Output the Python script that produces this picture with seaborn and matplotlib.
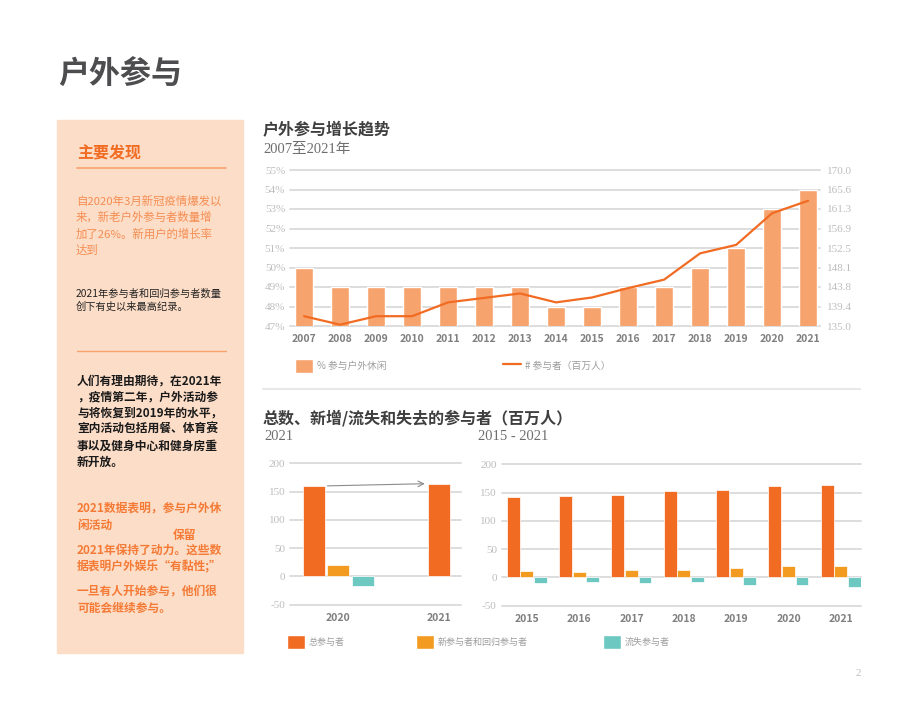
import numpy as np
import pandas as pd
import seaborn as sns
import matplotlib.pyplot as plt
from matplotlib.patches import Patch, Rectangle
from matplotlib.lines import Line2D

# ---- datos ----
trend_years = ['2007', '2008', '2009', '2010', '2011', '2012', '2013', '2014',
               '2015', '2016', '2017', '2018', '2019', '2020', '2021']
pct_participating = [50, 49, 49, 49, 49, 49, 49, 48, 48, 49, 49, 50, 51, 53, 54]
participants_m = [137.2, 135.3, 137.2, 137.2, 140.3, 141.3, 142.3, 140.3,
                  141.4, 143.5, 145.4, 151.3, 153.2, 160.3, 163.1]
pct_ticks = [47, 48, 49, 50, 51, 52, 53, 54, 55]
participant_ticks = [135.0, 139.4, 143.8, 148.1, 152.5, 156.9, 161.3, 165.6, 170.0]

series_names = ['总参与者', '新参与者和回归参与者', '流失参与者']
left_years = ['2020', '2021']
left_total = [160, 164]
left_new = [20, np.nan]
left_lost = [-17, np.nan]

churn_years = ['2015', '2016', '2017', '2018', '2019', '2020', '2021']
churn_total = [142, 144.3, 146, 152, 153.8, 161, 163.9]
churn_new = [11.2, 10, 12.4, 13.6, 16.6, 20, 20.7]
churn_lost = [-10, -8.3, -10.6, -8.3, -14.2, -13, -17.2]
bottom_ticks = [-50, 0, 50, 100, 150, 200]

# ---- colores ----
ORANGE = '#F26B22'
BAR_LIGHT = '#F7A36E'
AMBER = '#F29B20'
TEAL = '#6DC8C1'
PANEL = '#FCDDC7'
GRID = '#DADADA'
TICK = '#BDBDBD'
YEAR = '#7F7F7F'
LEG = '#9C9C9C'
palette = dict(zip(series_names, [ORANGE, AMBER, TEAL]))

sns.set_style('white')
plt.rcParams['font.family'] = ['Noto Sans CJK SC', 'DejaVu Sans']
SERIF = ['Liberation Serif', 'Noto Sans CJK SC']

W, H = 920, 711
fig = plt.figure(figsize=(9.2, 7.11), dpi=100)


def fx(x):
    return x / W


def fy(y):
    return 1 - y / H


def box(x0, y0, x1, y1):
    return [x0 / W, 1 - y1 / H, (x1 - x0) / W, (y1 - y0) / H]


def txt(x, y, s, **kw):
    fig.text(fx(x), fy(y), s, va='center', ha=kw.pop('ha', 'left'), **kw)


def style_axis(ax, ticks, labels):
    ax.set_yticks(ticks)
    ax.set_yticklabels(labels, family=SERIF, fontsize=8, color=TICK)
    ax.yaxis.grid(True, color=GRID, lw=1.3)
    for gl in ax.get_ygridlines():
        gl.set_clip_on(False)
    ax.set_axisbelow(True)
    ax.tick_params(length=0)
    ax.tick_params(axis='x', pad=6)
    ax.set_xlabel('')
    ax.set_ylabel('')
    sns.despine(ax=ax, left=True, bottom=True)


def legend_at(x, y, handle, label, fs=7, hl=1.85, hh=1.95):
    leg = fig.legend(handles=[handle], labels=[label], loc='center left',
                     bbox_to_anchor=(fx(x), fy(y)), bbox_transform=fig.transFigure,
                     frameon=False, borderpad=0, borderaxespad=0, fontsize=fs,
                     handlelength=hl, handleheight=hh, handletextpad=0.45,
                     labelcolor=LEG)
    return leg


# ---- encabezado y panel izquierdo ----
txt(58, 75, '户外参与', fontsize=22.3, fontweight='bold', color='#4D4D4F')
fig.add_artist(Rectangle((fx(57), fy(653)), (243 - 57) / W, (653 - 120) / H,
                         transform=fig.transFigure, color=PANEL, zorder=0))
txt(77, 153, '主要发现', fontsize=11.5, fontweight='bold', color=ORANGE)
fig.add_artist(Line2D([fx(77), fx(226)], [fy(168)] * 2, color='#F7A36E', lw=1.2))

para1 = ['自2020年3月新冠疫情爆发以', '来，新老户外参与者数量增',
         '加了26%。新用户的增长率', '达到']
for i, s in enumerate(para1):
    txt(76, 201 + i * 16.4, s, fontsize=8.2, color='#F58D52')

para2 = ['2021年参与者和回归参与者数量', '创下有史以来最高纪录。']
for i, s in enumerate(para2):
    txt(76, 293.5 + i * 13.5, s, fontsize=7.35, color='#222222')

fig.add_artist(Line2D([fx(77), fx(226)], [fy(351)] * 2, color='#F7A36E', lw=1.0))

para3 = ['人们有理由期待，在2021年', '，疫情第二年，户外活动参', '与将恢复到2019年的水平，',
         '室内活动包括用餐、体育赛', '事以及健身中心和健身房重', '新开放。']
for i, s in enumerate(para3):
    txt(77, 381 + i * 16.2, s, fontsize=8.45, fontweight='bold', color='#1A1A1A')

para4 = [(77, 508.5, '2021数据表明，参与户外休'), (77, 525, '闲活动'), (173, 536, '保留'),
         (77, 550.5, '2021年保持了动力。这些数'), (77, 567, '据表明户外娱乐“有黏性;”'),
         (77, 591, '一旦有人开始参与，他们很'), (77, 608, '可能会继续参与。')]
for x, y, s in para4:
    txt(x, y, s, fontsize=8.45, fontweight='bold', color='#F47A36')

# ---- grafico superior ----
txt(263, 130, '户外参与增长趋势', fontsize=11.5, fontweight='bold', color='#3F3F3F')
txt(263, 150, '2007至2021年', family=SERIF, fontsize=10.5, color='#6E6E6E')

ax = fig.add_axes(box(290, 170, 820, 326))
sns.barplot(x=trend_years, y=pct_participating, color=BAR_LIGHT, saturation=1,
            width=0.5, ax=ax)
ax.set_ylim(47, 55)
style_axis(ax, pct_ticks, [f'{v}%' for v in pct_ticks])
ax.set_xticks(range(len(trend_years)))
ax.set_xticklabels(trend_years, fontsize=7.5, fontweight='bold', color=YEAR)

ax2 = ax.twinx()
sns.pointplot(x=trend_years, y=participants_m, color=ORANGE, marker='',
              linewidth=1.6, errorbar=None, ax=ax2)
ax2.set_ylim(135, 170)
ax2.set_yticks(participant_ticks)
ax2.set_yticklabels([f'{v:.1f}' for v in participant_ticks], family=SERIF,
                    fontsize=8, color=TICK)
ax2.tick_params(length=0, pad=5)
ax2.set_ylabel('')
sns.despine(ax=ax2, left=True, bottom=True, right=True)
ax.set_xlim(-0.39, 14.33)
ax2.set_xlim(-0.39, 14.33)

legend_at(295, 366, Patch(facecolor=BAR_LIGHT), '% 参与户外休闲')
legend_at(503, 366, Line2D([], [], color=ORANGE, lw=1.6), '# 参与者（百万人）')
fig.add_artist(Line2D([fx(263), fx(860)], [fy(389)] * 2, color='#E8E8E8', lw=1.5))

# ---- graficos inferiores ----
txt(263, 418, '总数、新增/流失和失去的参与者（百万人）', fontsize=11.5,
    fontweight='bold', color='#3F3F3F')
txt(264, 437, '2021', family=SERIF, fontsize=10.5, color='#6E6E6E')
txt(478, 437, '2015 - 2021', family=SERIF, fontsize=10.5, color='#6E6E6E')

left_df = pd.DataFrame({'year': left_years, series_names[0]: left_total,
                        series_names[1]: left_new, series_names[2]: left_lost})
left_long = left_df.melt(id_vars='year', var_name='series', value_name='value').dropna()
grouped = left_long.groupby('year')['series'].transform('count') == len(series_names)

axl = fig.add_axes(box(290, 463.3, 460.7, 604.7))
sns.barplot(data=left_long[grouped], x='year', y='value', hue='series',
            order=left_years, hue_order=series_names, palette=palette, saturation=1,
            width=0.735, gap=0.1, edgecolor='white', linewidth=0.5, legend=False, ax=axl)
sns.barplot(data=left_long[~grouped], x='year', y='value', order=left_years,
            color=ORANGE, saturation=1, width=0.22, edgecolor='white', linewidth=0.5, ax=axl)
axl.set_ylim(-50, 200)
axl.set_xlim(-0.48, 1.22)
style_axis(axl, bottom_ticks, [str(v) for v in bottom_ticks])
axl.set_xticks(range(len(left_years)))
axl.set_xticklabels(left_years, fontsize=7.5, fontweight='bold', color=YEAR)
axl.annotate('', xy=(1 - 0.11, left_total[1]), xytext=(-0.245 + 0.11, left_total[0]),
             arrowprops=dict(arrowstyle='->', color='#8C8C8C', lw=0.8))

churn_df = pd.DataFrame({'year': churn_years, series_names[0]: churn_total,
                         series_names[1]: churn_new, series_names[2]: churn_lost})
churn_long = churn_df.melt(id_vars='year', var_name='series', value_name='value')

axr = fig.add_axes(box(501.7, 464.3, 860.7, 605.7))
sns.barplot(data=churn_long, x='year', y='value', hue='series', order=churn_years,
            hue_order=series_names, palette=palette, saturation=1, width=0.78, gap=0.06,
            edgecolor='white', linewidth=0.5, legend=False, ax=axr)
axr.set_ylim(-50, 200)
axr.set_xlim(-0.48, 6.38)
style_axis(axr, bottom_ticks, [str(v) for v in bottom_ticks])
axr.set_xticks(range(len(churn_years)))
axr.set_xticklabels(churn_years, fontsize=7.5, fontweight='bold', color=YEAR)

for x, name in zip([287, 416, 603], series_names):
    legend_at(x, 642, Patch(facecolor=palette[name]), name, fs=6.5, hl=2.0, hh=2.0)

txt(858, 673, '2', family=SERIF, fontsize=8, color=TICK, ha='center')

fig.savefig('out.png', dpi=100)
